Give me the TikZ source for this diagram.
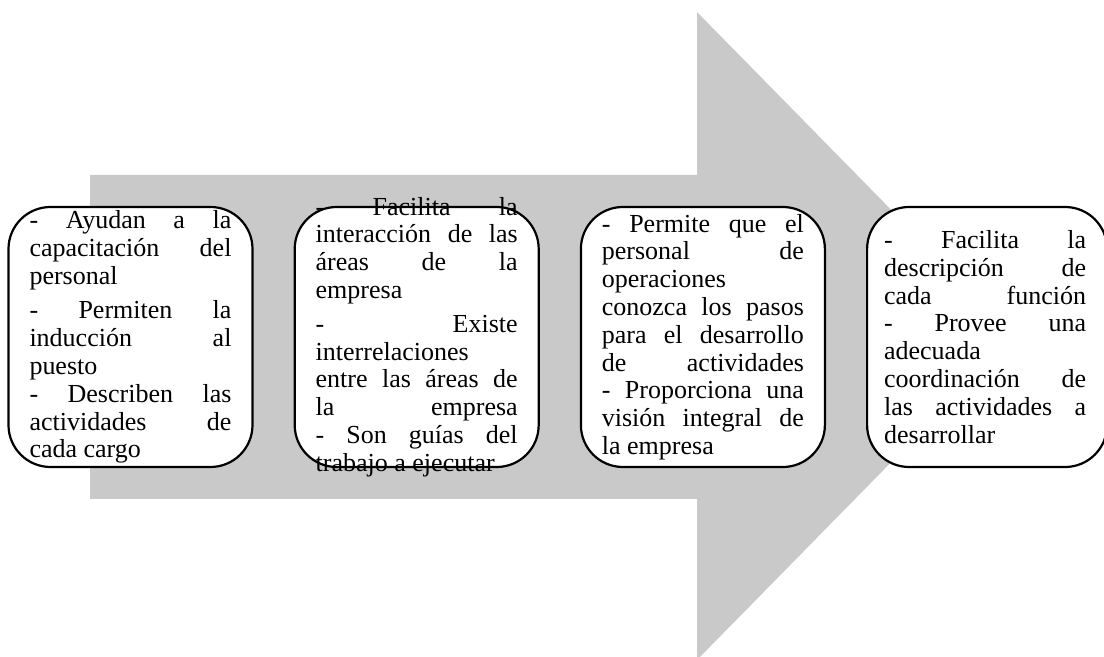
\documentclass[tikz,border=0pt]{standalone}
\usepackage{fontspec}
\setmainfont{Liberation Serif}
\usepackage{tikz}
\usetikzlibrary{positioning}
\definecolor{arrowgray}{RGB}{201,201,201}
\setlength{\parindent}{0pt}
\newlength{\boxtw}
\setlength{\boxtw}{101pt}
\newcommand{\jl}[1]{\makebox[\boxtw][s]{\spaceskip=0pt\xspaceskip=0pt #1}}

\begin{document}
\begin{tikzpicture}[x=0.5pt,y=-0.5pt,
  box/.style={draw=black, line width=1.1pt, fill=white, rounded corners=21pt,
    minimum width=122pt, minimum height=130pt, inner sep=0pt},
  txt/.style={text width=\boxtw, inner sep=0pt, align=left,
    font=\fontsize{13}{13.9}\selectfont,
    execute at begin node={\spaceskip=0pt\xspaceskip=0pt}},
  node distance=20pt]
\useasboundingbox (0,0) rectangle (1104,657);
\fill[arrowgray] (90,175) -- (697,175) -- (697,12) -- (1015,336) -- (697,660) -- (697,499) -- (90,499) -- cycle;
% rounded boxes
\node[box] (b1) at (130.5,337) {};
\node[box, right=of b1] (b2) {};
\node[box, right=of b2] (b3) {};
\node[box, right=of b3, minimum width=120pt] (b4) {};
% texts
\node[txt] (t1) at (b1) {\jl{- Ayudan a la}\\
\jl{capacitación del}\\
personal\\[3.5pt]
\jl{- Permiten la}\\
\jl{inducción al}\\
puesto\\
\jl{- Describen las}\\
\jl{actividades de}\\
cada cargo};
\node[txt] (t2) at (b2) {\jl{- Facilita la}\\
\jl{interacción de las}\\
\jl{áreas de la}\\
empresa\\[3pt]
\jl{- Existe}\\
interrelaciones\\
\jl{entre las áreas de}\\
\jl{la empresa}\\
\jl{- Son guías del}\\
trabajo a ejecutar};
\node[txt] (t3) at (b3) {\jl{- Permite que el}\\
\jl{personal de}\\
operaciones\\
\jl{conozca los pasos}\\
\jl{para el desarrollo}\\
\jl{de actividades}\\
\jl{- Proporciona una}\\
\jl{visión integral de}\\
la empresa};
\node[txt, xshift=-1pt] (t4) at (b4) {\jl{- Facilita la}\\
\jl{descripción de}\\
\jl{cada función}\\
\jl{- Provee una}\\
adecuada\\
\jl{coordinación de}\\
\jl{las actividades a}\\
desarrollar};
\end{tikzpicture}
\end{document}
